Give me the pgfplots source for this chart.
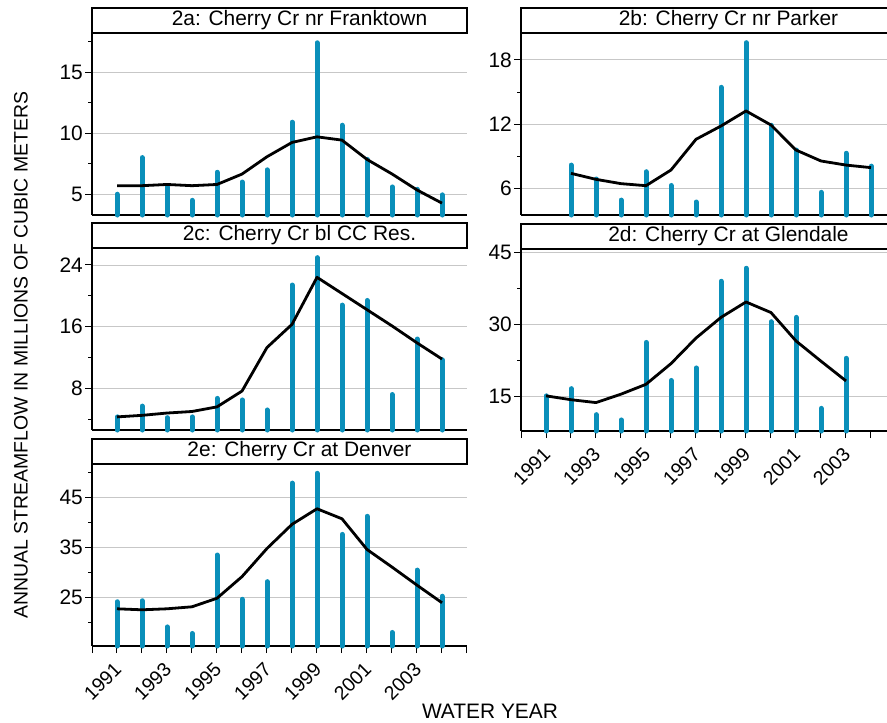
\documentclass[border=0pt]{standalone}
\usepackage{pgfplots}
\pgfplotsset{compat=1.18}
\usepackage{fontspec}
\setmainfont{Liberation Sans}
\definecolor{barc}{RGB}{10,143,186}
\pgfplotsset{
  panel/.style={
    scale only axis, width=375bp, height=182bp, anchor=south west,
    xmin=1990, xmax=2005,
    axis x line*=bottom, axis y line*=left,
    axis line style={-, line width=1.2bp},
    clip=false, clip mode=individual,
    ymajorgrids, grid style={black!22, line width=0.9bp},
    tick align=outside,
    major tick length=7bp, minor tick length=4bp,
    tick style={black, line width=1bp},
    /pgf/number format/assume math mode=true,
    ticklabel style={font=\fontsize{21}{25}\selectfont},
    yticklabel style={inner sep=1bp, xshift=-1bp},
    xtick=\empty,
  },
  xyears/.style={
    xtick={1990,...,2005},
    xticklabels={,1991,,1993,,1995,,1997,,1999,,2001,,2003,,},
    xticklabel style={font=\fontsize{19.5}{23}\selectfont, inner sep=0bp, yshift=-8bp, xshift=-4bp, rotate=45, anchor=north east},
  },
  bars/.style={ycomb, barc, line width=5bp, line cap=round, mark=none},
  smooth line/.style={black, line width=2.8bp, line join=round, mark=none},
}
\newcommand{\titlebox}[1]{%
  \draw[line width=1.2bp] (rel axis cs:0,1) rectangle ([yshift=25bp]rel axis cs:1,1);
  \node[font=\fontsize{21}{25}\selectfont, inner sep=0pt] at ([xshift=20bp,yshift=12.5bp]rel axis cs:0.5,1) {#1};
}
\begin{document}
\begin{tikzpicture}
\useasboundingbox (0,0) rectangle (887bp,-723bp);

% 2a
\begin{axis}[panel, at={(92bp,-215bp)}, ymin=3.3, ymax=18.2,
  ytick={5,10,15}, minor ytick={7.5,12.5,17.5}]
\addplot[bars] coordinates {(1991,5.0) (1992,8.0) (1993,5.6) (1994,4.5) (1995,6.8) (1996,6.0) (1997,7.0) (1998,10.9) (1999,17.4) (2000,10.65) (2001,7.85) (2002,5.6) (2003,5.4) (2004,4.95)};
\addplot[smooth line] coordinates {(1991,5.7) (1992,5.7) (1993,5.8) (1994,5.7) (1995,5.8) (1996,6.65) (1997,8.07) (1998,9.24) (1999,9.7) (2000,9.43) (2001,7.85) (2002,6.66) (2003,5.35) (2004,4.27)};
\titlebox{2a: Cherry Cr nr Franktown}
\end{axis}

% 2b
\begin{axis}[panel, at={(521bp,-215bp)}, ymin=3.55, ymax=20.5,
  ytick={6,12,18}, minor ytick={9,15}]
\addplot[bars] coordinates {(1992,8.2) (1993,6.9) (1994,4.94) (1995,7.58) (1996,6.3) (1997,4.76) (1998,15.44) (1999,19.6) (2000,11.9) (2001,9.6) (2002,5.66) (2003,9.3) (2004,8.1)};
\addplot[smooth line] coordinates {(1992,7.43) (1993,6.87) (1994,6.47) (1995,6.28) (1996,7.74) (1997,10.6) (1998,11.84) (1999,13.24) (2000,11.93) (2001,9.6) (2002,8.58) (2003,8.2) (2004,7.96)};
\titlebox{2b: Cherry Cr nr Parker}
\end{axis}

% 2c
\begin{axis}[panel, at={(92bp,-430bp)}, ymin=2.6, ymax=26.2,
  ytick={8,16,24}, minor ytick={4,12,20}]
\addplot[bars] coordinates {(1991,4.3) (1992,5.7) (1993,4.2) (1994,4.3) (1995,6.7) (1996,6.5) (1997,5.2) (1998,21.4) (1999,24.95) (2000,18.8) (2001,19.4) (2002,7.2) (2003,14.4) (2004,11.7)};
\addplot[smooth line] coordinates {(1991,4.3) (1992,4.5) (1993,4.8) (1994,5.0) (1995,5.6) (1996,7.65) (1997,13.3) (1998,16.3) (1999,22.4) (2000,20.3) (2001,18.2) (2002,16.1) (2003,13.9) (2004,11.8)};
\titlebox{2c: Cherry Cr bl CC Res.}
\end{axis}

% 2d
\begin{axis}[panel, xyears, at={(521bp,-431bp)}, ymin=7.9, ymax=45.7,
  ytick={15,30,45}, minor ytick={22.5,37.5}]
\addplot[bars] coordinates {(1991,15.2) (1992,16.7) (1993,11.3) (1994,10.2) (1995,26.3) (1996,18.4) (1997,21.0) (1998,39.0) (1999,41.7) (2000,30.6) (2001,31.5) (2002,12.6) (2003,23.0)};
\addplot[smooth line] coordinates {(1991,15.2) (1992,14.4) (1993,13.8) (1994,15.55) (1995,17.6) (1996,21.9) (1997,27.2) (1998,31.5) (1999,34.7) (2000,32.5) (2001,26.6) (2002,22.4) (2003,18.3)};
\titlebox{2d: Cherry Cr at Glendale}
\end{axis}

% 2e
\begin{axis}[panel, xyears, at={(92bp,-646bp)}, ymin=15.4, ymax=51.6,
  ytick={25,35,45}, minor ytick={20,30,40,50}]
\addplot[bars] coordinates {(1991,24.2) (1992,24.4) (1993,19.2) (1994,17.9) (1995,33.5) (1996,24.7) (1997,28.2) (1998,47.8) (1999,49.75) (2000,37.6) (2001,41.2) (2002,18.1) (2003,30.5) (2004,25.3)};
\addplot[smooth line] coordinates {(1991,22.8) (1992,22.6) (1993,22.8) (1994,23.2) (1995,24.9) (1996,29.2) (1997,34.8) (1998,39.6) (1999,42.7) (2000,40.7) (2001,34.6) (2002,31.1) (2003,27.5) (2004,24.0)};
\titlebox{2e: Cherry Cr at Denver}
\end{axis}

\node[rotate=90, font=\fontsize{19.5}{24}\selectfont] at (21bp,-355bp) {ANNUAL STREAMFLOW IN MILLIONS OF CUBIC METERS};
\node[font=\fontsize{21}{25}\selectfont] at (490bp,-711bp) {WATER YEAR};
\end{tikzpicture}
\end{document}
